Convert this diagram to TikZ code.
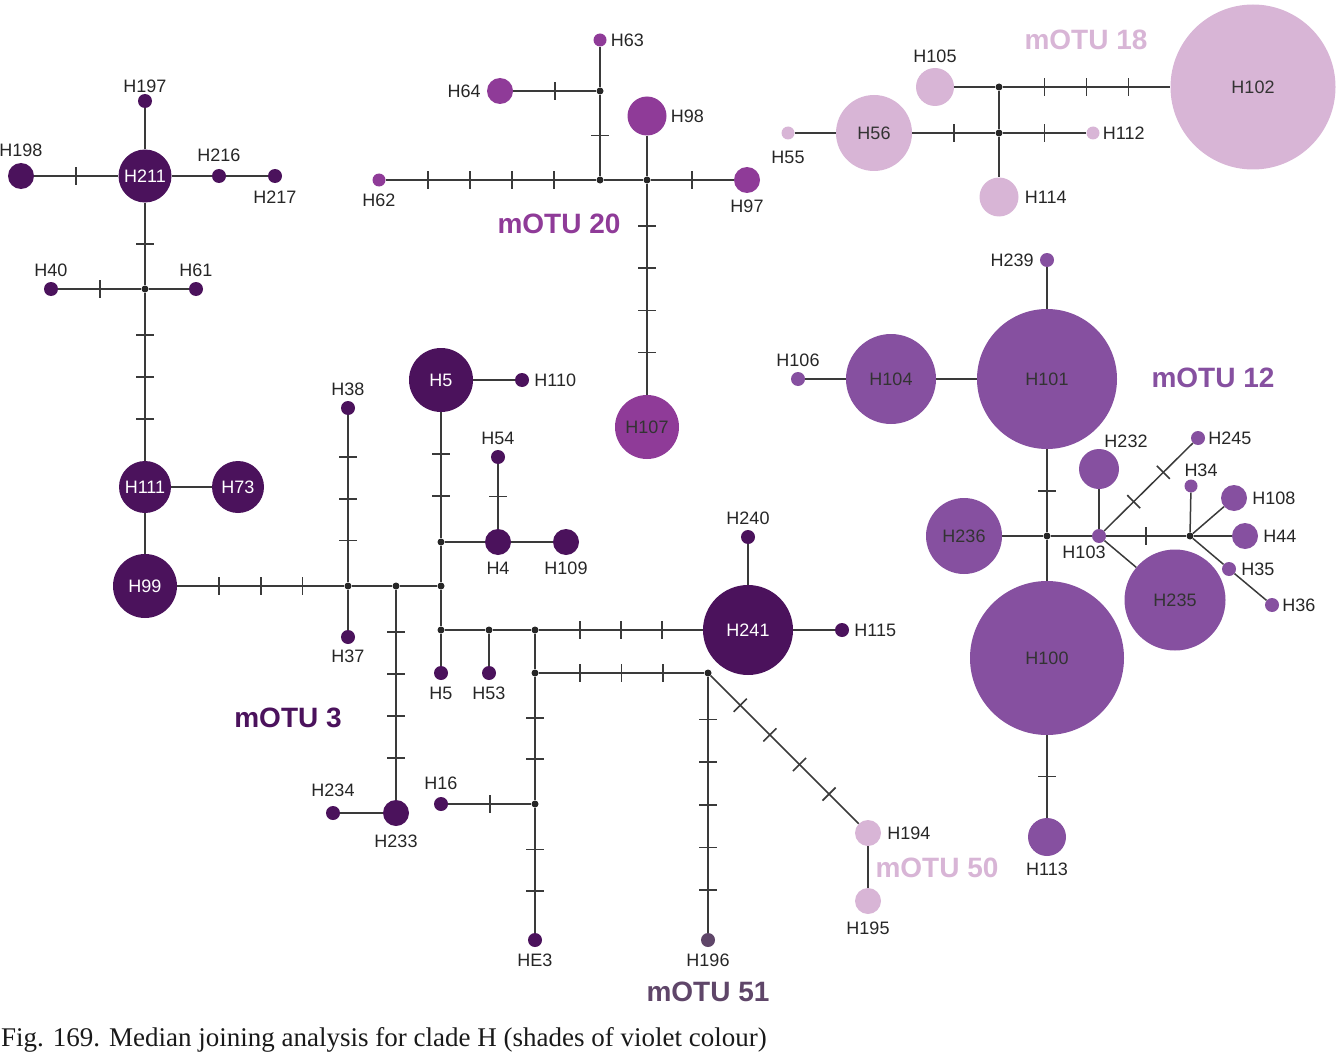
\documentclass[tikz,border=0pt]{standalone}
\usepackage{fontspec}
\setmainfont{Liberation Serif}
\setsansfont{Liberation Sans}
\definecolor{otuA}{RGB}{75,18,92}
\definecolor{otuB}{RGB}{143,59,152}
\definecolor{otuC}{RGB}{134,80,160}
\definecolor{otuD}{RGB}{216,181,214}
\definecolor{otuF}{RGB}{95,70,105}
\definecolor{lc}{RGB}{58,58,58}

\begin{document}
\begin{tikzpicture}[x=1pt,y=-1pt,
		font=\sffamily\fontsize{18}{21}\selectfont,
		hap/.style={circle,inner sep=0pt,fill=#1,text=black!80},
		med/.style={circle,inner sep=0pt,fill=black!85,minimum size=7pt},
		link/.style={draw=lc,line width=1.5pt},
		mut/.style={sloped,draw=lc,line width=1.4pt,inner sep=0pt,outer sep=0pt,minimum width=0.2pt,minimum height=17pt},
		otu/.style={font=\sffamily\bfseries\fontsize{28}{32}\selectfont,text=#1},
		label distance=5pt,
		every label/.style={inner sep=0pt,text=black!85}]
		\useasboundingbox (0,0) rectangle (1339,1054);

		\foreach \n/\x/\y in {m1/145/289,m2/348/586,m3/396/586,m4/441/586,m5/441/542,m6/441/630,m7/489/630,m8/535/630,m9/535/673,m10/708/673,m11/535/804,m20a/600/91,m20b/600/180,m20c/647/180,m18a/999/87,m18b/999/133,m12a/1047/536,m12b/1190/536}
		{
			\node[med] (\n) at (\x,\y) {};
		}

		\node[hap=otuA,minimum size=53pt,text=white] (H211) at (145,176) {H211};
		\node[hap=otuA,minimum size=14pt,label={[label distance=1pt]above:H197}] (H197) at (145,101) {};
		\node[hap=otuA,minimum size=26pt,label={[label distance=6pt]above:H198}] (H198) at (21,176) {};
		\node[hap=otuA,minimum size=14pt,label={[label distance=7pt]above:H216}] (H216) at (219,176) {};
		\node[hap=otuA,minimum size=14pt,label={[label distance=8pt]below:H217}] (H217) at (275,176) {};
		\node[hap=otuA,minimum size=14pt,label=above:H40] (H40) at (51,289) {};
		\node[hap=otuA,minimum size=14pt,label=above:H61] (H61) at (196,289) {};
		\node[hap=otuA,minimum size=52pt,text=white] (H111) at (145,487) {H111};
		\node[hap=otuA,minimum size=52pt,text=white] (H73) at (238,487) {H73};
		\node[hap=otuA,minimum size=64pt,text=white] (H99) at (145,586) {H99};
		\node[hap=otuA,minimum size=14pt,label=above:H38] (H38) at (348,408) {};
		\node[hap=otuA,minimum size=14pt,label={[label distance=6pt]below:H37}] (H37) at (348,637) {};
		\node[hap=otuA,minimum size=26pt,label={[label distance=9pt]below:H233}] (H233) at (396,813) {};
		\node[hap=otuA,minimum size=14pt,label={[label distance=9pt]above:H234}] (H234) at (333,813) {};
		\node[hap=otuA,minimum size=64pt,text=white] (H5) at (441,380) {H5};
		\node[hap=otuA,minimum size=14pt,label=right:H110] (H110) at (522,380) {};
		\node[hap=otuA,minimum size=14pt,label=above:H54] (H54) at (498,457) {};
		\node[hap=otuA,minimum size=26pt,label={[label distance=7pt]below:H4}] (H4) at (498,542) {};
		\node[hap=otuA,minimum size=26pt,label={[label distance=7pt]below:H109}] (H109) at (566,542) {};
		\node[hap=otuA,minimum size=14pt,label={[label distance=7pt]below:H5}] (H5s) at (441,673) {};
		\node[hap=otuA,minimum size=14pt,label={[label distance=7pt]below:H53}] (H53) at (489,673) {};
		\node[hap=otuA,minimum size=90pt,text=white] (H241) at (748,630) {H241};
		\node[hap=otuA,minimum size=14pt,label=above:H240] (H240) at (748,537) {};
		\node[hap=otuA,minimum size=14pt,label=right:H115] (H115) at (842,630) {};
		\node[hap=otuA,minimum size=14pt,label={[label distance=7pt]above:H16}] (H16) at (441,804) {};
		\node[hap=otuA,minimum size=14pt,label={[label distance=7pt]below:HE3}] (HE3) at (535,940) {};
		\node[hap=otuF,minimum size=14pt,label={[label distance=7pt]below:H196}] (H196) at (708,940) {};

		\node[hap=otuD,minimum size=26pt,label={[label distance=6pt]right:H194}] (H194) at (868,833) {};
		\node[hap=otuD,minimum size=26pt,label={[label distance=8pt]below:H195}] (H195) at (868,901) {};

		\node[hap=otuB,minimum size=13pt,label={[label distance=4pt]right:H63}] (H63) at (600,40) {};
		\node[hap=otuB,minimum size=26pt,label={[label distance=6pt]left:H64}] (H64) at (500,91) {};
		\node[hap=otuB,minimum size=13pt,label={[label distance=7pt]below:H62}] (H62) at (379,180) {};
		\node[hap=otuB,minimum size=39pt,label={[label distance=4pt]right:H98}] (H98) at (647,116) {};
		\node[hap=otuB,minimum size=26pt,label={[label distance=7pt]below:H97}] (H97) at (747,180) {};
		\node[hap=otuB,minimum size=64pt] (H107) at (647,427) {H107};

		\node[hap=otuD,minimum size=38pt,label=above:H105] (H105) at (935,87) {};
		\node[hap=otuD,minimum size=165pt] (H102) at (1253,87) {H102};
		\node[hap=otuD,minimum size=76pt] (H56) at (874,133) {H56};
		\node[hap=otuD,minimum size=13pt,label={[label distance=11pt]below:H55}] (H55) at (788,133) {};
		\node[hap=otuD,minimum size=13pt,label={[label distance=3pt]right:H112}] (H112) at (1093,133) {};
		\node[hap=otuD,minimum size=39pt,label={[label distance=6pt]right:H114}] (H114) at (999,197) {};

		\node[hap=otuC,minimum size=14pt,label={[label distance=6pt]left:H239}] (H239) at (1047,260) {};
		\node[hap=otuC,minimum size=14pt,label=above:H106] (H106) at (798,379) {};
		\node[hap=otuC,minimum size=90pt] (H104) at (891,379) {H104};
		\node[hap=otuC,minimum size=140pt] (H101) at (1047,379) {H101};
		\node[hap=otuC,minimum size=76pt] (H236) at (964,536) {H236};
		\node[hap=otuC,minimum size=154pt] (H100) at (1047,658) {H100};
		\node[hap=otuC,minimum size=14pt,label={[label distance=3pt,xshift=-15pt]below:H103}] (H103) at (1099,536) {};
		\node[hap=otuC,minimum size=40pt,label={[label distance=1pt,xshift=27pt]above:H232}] (H232) at (1099,469) {};
		\node[hap=otuC,minimum size=14pt,label={[label distance=3pt]right:H245}] (H245) at (1198,438) {};
		\node[hap=otuC,minimum size=13pt,label={[label distance=2pt,xshift=10pt]above:H34}] (H34) at (1191,486) {};
		\node[hap=otuC,minimum size=26pt,label=right:H108] (H108) at (1234,498) {};
		\node[hap=otuC,minimum size=26pt,label=right:H44] (H44) at (1245,536) {};
		\node[hap=otuC,minimum size=14pt,label=right:H35] (H35) at (1229,569) {};
		\node[hap=otuC,minimum size=14pt,label={[label distance=3pt]right:H36}] (H36) at (1272,605) {};
		\node[hap=otuC,minimum size=101pt] (H235) at (1175,600) {H235};
		\node[hap=otuC,minimum size=38pt,label={[label distance=7pt]below:H113}] (H113) at (1047,837) {};

		\foreach \a/\b in {H211/H197,H211/H216,H216/H217,m1/H61,H111/H73,H111/H99,m2/H37,m2/m3,m3/m4,H233/H234,H5/H110,m5/H4,H4/H109,m5/m4,m4/m6,m6/H5s,m6/m7,m7/H53,m7/m8,H241/H240,H241/H115,m8/m9,H194/H195,
			H63/m20a,m20b/m20c,H98/m20c,
			H105/m18a,H55/H56,m18a/m18b,m18b/H114,
			H106/H104,H104/H101,H239/H101,H236/m12a,m12a/H100,m12a/H103,H103/H232,H103/H235,m12b/H34,m12b/H108,m12b/H44,m12b/H35,H35/H36}
		{
			\draw[link] (\a) -- (\b);
		}
		\foreach \a/\b/\n in {H198/H211/1,H211/m1/1,H40/m1/1,m1/H111/3,H99/m2/3,H38/m2/3,m3/H233/4,H5/m5/2,H54/H4/1,m8/H241/3,m9/m10/3,m9/m11/2,H16/m11/1,m11/HE3/2,m10/H196/5,m10/H194/4,
			H64/m20a/1,m20a/m20b/1,H62/m20b/4,m20c/H97/1,m20c/H107/4,
			m18a/H102/3,H56/m18b/1,m18b/H112/1,
			H101/m12a/1,H103/m12b/1,H103/H245/2,H100/H113/1}
		{
			\draw[link] (\a) -- (\b) \foreach \k [evaluate=\k as \p using \k/(\n+1)] in {1,...,\n} {node[mut,pos=\p]{}};
		}

		\node[otu=otuA] (o3) at (288,718) {mOTU 3};
		\node[otu=otuB] (o20) at (559,224) {mOTU 20};
		\node[otu=otuD] (o18) at (1086,40) {mOTU 18};
		\node[otu=otuC] (o12) at (1213,378) {mOTU 12};
		\node[otu=otuD] (o50) at (937,868) {mOTU 50};
		\node[otu=otuF] (o51) at (708,992) {mOTU 51};

		\node[anchor=base west,inner sep=0pt,text=black!90,font=\rmfamily\fontsize{27}{32}\selectfont] (cap) at (1,1046) {Fig. 169. Median joining analysis for clade H (shades of violet colour)};
	\end{tikzpicture}
\end{document}
